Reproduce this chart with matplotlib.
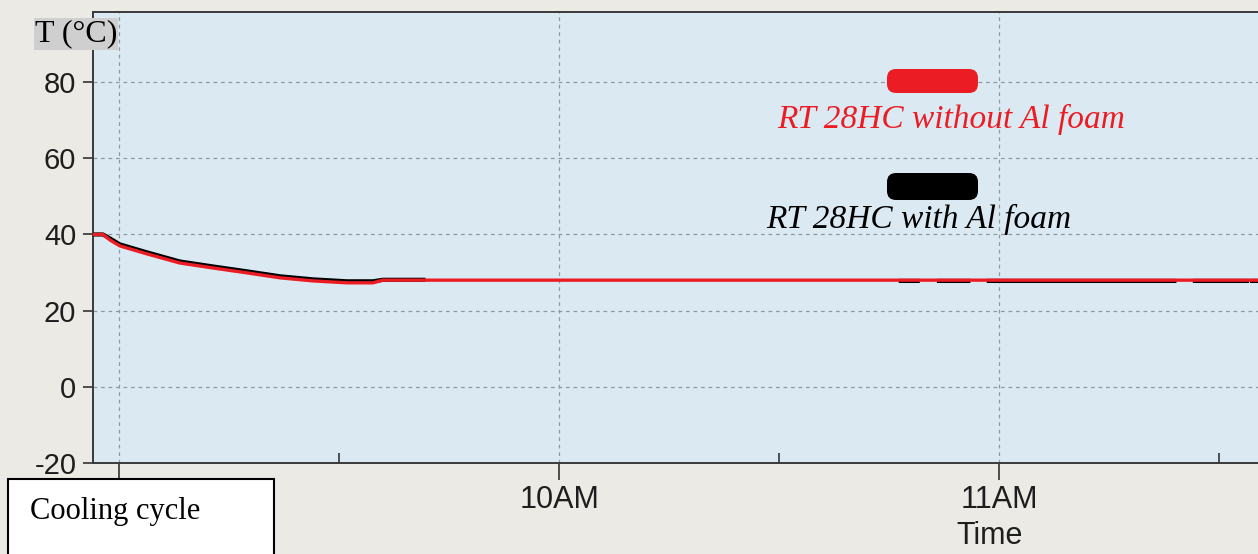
import matplotlib

matplotlib.use("Agg")
import matplotlib.pyplot as plt
import numpy as np
from matplotlib.patches import FancyBboxPatch, Rectangle

# minutes after 9:00 AM
t_red = [-3.5, -2.2, -1.2, 0.1, 3.8, 8.3, 12.8, 17.5, 22.0, 26.5, 31.1, 34.6, 36.0, 41.5, 155.3]
T_red = [40.0, 40.0, 38.5, 37.0, 34.9, 32.5, 31.2, 29.9, 28.6, 27.8, 27.3, 27.3, 28.0, 28.0, 28.0]

# logger with Al foam drops out for a while after ~9:42
t_blk = [-3.5, -2.2, -1.2, 0.1, 3.8, 8.3, 12.8, 17.5, 22.0, 26.5, 31.1, 34.6, 36.0, 41.5,
         np.nan, 106.6, 108.9, np.nan, 111.8, 115.8, np.nan, 118.6, 143.9,
         np.nan, 146.7, 153.8, np.nan, 154.5, 155.3]
T_blk = [40.0, 40.0, 38.9, 37.4, 35.3, 32.9, 31.6, 30.3, 29.0, 28.2, 27.7, 27.7, 28.1, 28.1,
         np.nan, 27.8, 27.8, np.nan, 27.8, 27.8, np.nan, 27.8, 27.8,
         np.nan, 27.8, 27.8, np.nan, 27.8, 27.8]

hour_ticks = [0, 60, 120]
hour_labels = ["", "10AM", "11AM"]  # 9AM sits under the cycle box
half_ticks = [30, 90, 150]
temp_ticks = [-20, 0, 20, 40, 60, 80]

RED = "#ec1c24"
W, H = 1258, 554

fig = plt.figure(figsize=(W / 100, H / 100), dpi=100, facecolor="#eceae5")
ax = fig.add_axes([93 / W, (H - 463) / H, (W - 93) / W, (463 - 12) / H])
ax.set_facecolor("#dbeaf2")

ax.plot(t_blk, T_blk, color="black", lw=3.0, zorder=3)
ax.plot(t_red, T_red, color=RED, lw=2.4, zorder=4)

ax.set_xlim(-3.55, 155.3)
ax.set_ylim(-20, 98.4)

ax.set_xticks(hour_ticks)
ax.set_xticklabels(hour_labels, fontsize=22, family="Liberation Sans", color="#1e1e1e")
ax.set_xticks(half_ticks, minor=True)
ax.tick_params(axis="x", which="major", direction="out", length=12, width=1.2,
               color="#333333", pad=4)
ax.tick_params(axis="x", which="minor", direction="in", length=7, width=1.2,
               color="#333333")
ax.set_yticks(temp_ticks)
ax.set_yticklabels([str(v) for v in temp_ticks], fontsize=21,
                   family="Liberation Sans", color="#1e1e1e")
ax.tick_params(axis="y", direction="out", length=7, width=1.2, color="#333333", pad=5)

ax.grid(True, which="major", linestyle=(0, (3, 3)), color="#8f9aa0", lw=0.9)
ax.set_axisbelow(True)
for side in ("left", "bottom", "top"):
    ax.spines[side].set_color("#3a3a3a")
    ax.spines[side].set_linewidth(1.4)
ax.spines["right"].set_visible(False)

# legend keys: rounded bars with italic captions
for y_in, col, h in ((4.61, RED, 0.24), (3.54, "black", 0.27)):
    fig.add_artist(FancyBboxPatch((8.87, y_in), 0.91, h,
                                  boxstyle="round,pad=0,rounding_size=0.09",
                                  transform=fig.dpi_scale_trans,
                                  facecolor=col, edgecolor="none", zorder=5))
fig.text(951 / W, (H - 119) / H, "RT 28HC without Al foam", color=RED,
         fontsize=24, family="Liberation Serif", style="italic",
         ha="center", va="center")
fig.text(919 / W, (H - 219) / H, "RT 28HC with Al foam", color="black",
         fontsize=24, family="Liberation Serif", style="italic",
         ha="center", va="center")

fig.text(76 / W, (H - 34) / H, "T (°C)", fontsize=23, family="Liberation Serif",
         ha="center", va="center",
         bbox=dict(facecolor="#cfcfcf", edgecolor="none", pad=1))
fig.text(990 / W, (H - 536) / H, "Time", fontsize=22, family="Liberation Sans",
         color="#1e1e1e", ha="center", va="center")

fig.add_artist(Rectangle((8 / W, -0.05), 266 / W, (H - 479) / H + 0.05,
                         transform=fig.transFigure, facecolor="white",
                         edgecolor="black", lw=1.5, zorder=6))
fig.text(30 / W, (H - 511) / H, "Cooling cycle", fontsize=22,
         family="Liberation Serif", ha="left", va="center", zorder=7)

fig.savefig("out.png", dpi=100, facecolor=fig.get_facecolor())
